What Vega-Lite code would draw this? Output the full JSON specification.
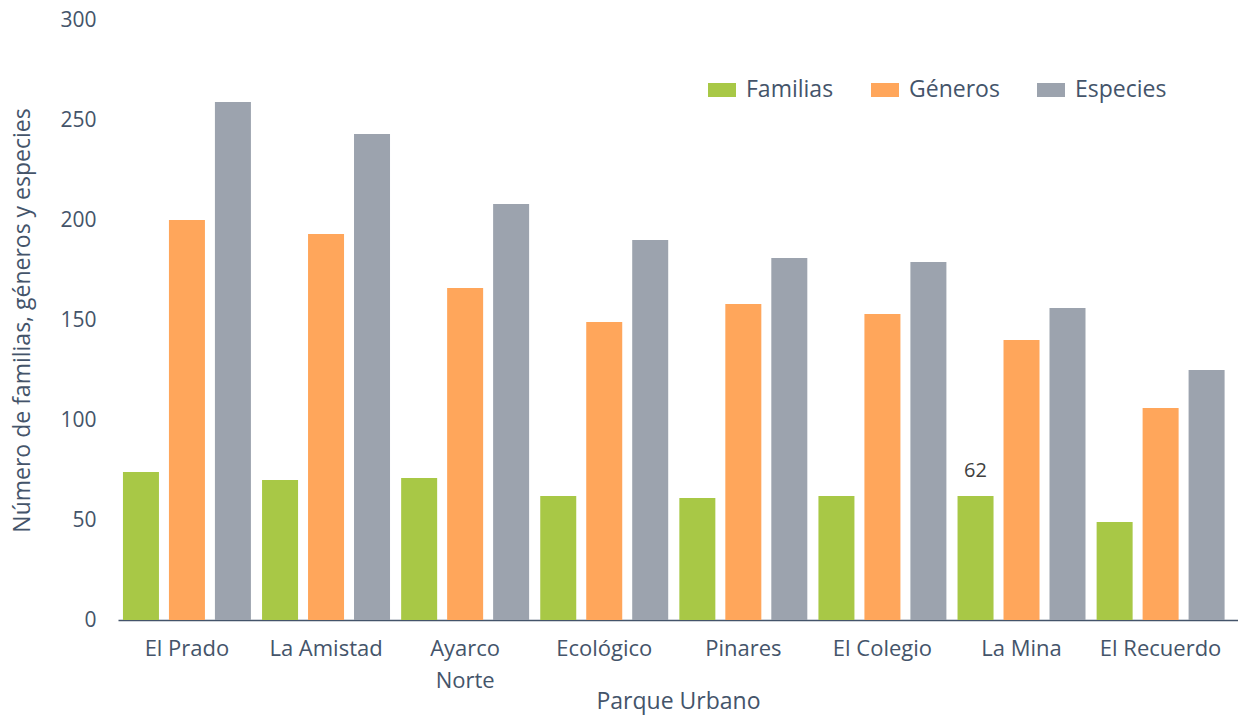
{
  "$schema": "https://vega.github.io/schema/vega-lite/v6.json",
  "width": 1120,
  "height": 600,
  "autosize": {"type": "none"},
  "padding": {"left": 118, "top": 20, "right": 0, "bottom": 95},
  "background": "white",
  "config": {"font": "Open Sans", "view": {"stroke": null}},
  "data": {
    "values": [
      {"parque": "El Prado", "grupo": "Familias", "valor": 74},
      {"parque": "El Prado", "grupo": "Géneros", "valor": 200},
      {"parque": "El Prado", "grupo": "Especies", "valor": 259},
      {"parque": "La Amistad", "grupo": "Familias", "valor": 70},
      {"parque": "La Amistad", "grupo": "Géneros", "valor": 193},
      {"parque": "La Amistad", "grupo": "Especies", "valor": 243},
      {"parque": "Ayarco Norte", "grupo": "Familias", "valor": 71},
      {"parque": "Ayarco Norte", "grupo": "Géneros", "valor": 166},
      {"parque": "Ayarco Norte", "grupo": "Especies", "valor": 208},
      {"parque": "Ecológico", "grupo": "Familias", "valor": 62},
      {"parque": "Ecológico", "grupo": "Géneros", "valor": 149},
      {"parque": "Ecológico", "grupo": "Especies", "valor": 190},
      {"parque": "Pinares", "grupo": "Familias", "valor": 61},
      {"parque": "Pinares", "grupo": "Géneros", "valor": 158},
      {"parque": "Pinares", "grupo": "Especies", "valor": 181},
      {"parque": "El Colegio", "grupo": "Familias", "valor": 62},
      {"parque": "El Colegio", "grupo": "Géneros", "valor": 153},
      {"parque": "El Colegio", "grupo": "Especies", "valor": 179},
      {"parque": "La Mina", "grupo": "Familias", "valor": 62, "etiqueta": "62"},
      {"parque": "La Mina", "grupo": "Géneros", "valor": 140},
      {"parque": "La Mina", "grupo": "Especies", "valor": 156},
      {"parque": "El Recuerdo", "grupo": "Familias", "valor": 49},
      {"parque": "El Recuerdo", "grupo": "Géneros", "valor": 106},
      {"parque": "El Recuerdo", "grupo": "Especies", "valor": 125}
    ]
  },
  "encoding": {
    "x": {
      "field": "parque",
      "type": "nominal",
      "sort": null,
      "scale": {"paddingInner": 0.08, "paddingOuter": 0.066, "align": 0.27},
      "axis": {
        "title": "Parque Urbano",
        "labelAngle": 0,
        "labelFontSize": 22,
        "labelColor": "#44546A",
        "labelPadding": 18,
        "labelLineHeight": 32,
        "labelExpr": "datum.label == 'Ayarco Norte' ? ['Ayarco', 'Norte'] : datum.label",
        "ticks": false,
        "domainColor": "#44546A",
        "domainWidth": 1.5,
        "titleFontSize": 23,
        "titleFontWeight": "normal",
        "titleColor": "#44546A",
        "titleY": 81,
        "titleBaseline": "middle"
      }
    },
    "xOffset": {
      "field": "grupo",
      "type": "nominal",
      "sort": ["Familias", "Géneros", "Especies"],
      "scale": {"paddingInner": 0.217, "paddingOuter": 0}
    },
    "y": {
      "field": "valor",
      "type": "quantitative",
      "scale": {"domain": [0, 300]},
      "axis": {
        "title": "Número de familias, géneros y especies",
        "values": [0, 50, 100, 150, 200, 250, 300],
        "grid": false,
        "domain": false,
        "ticks": false,
        "labelFontSize": 21,
        "labelColor": "#44546A",
        "labelPadding": 22,
        "titleFontSize": 23,
        "titleFontWeight": "normal",
        "titleColor": "#44546A",
        "titleX": -96,
        "titleY": 300,
        "titleAngle": -90,
        "titleBaseline": "middle",
        "titleAlign": "center"
      }
    }
  },
  "layer": [
    {
      "mark": {"type": "bar"},
      "encoding": {
        "color": {
          "field": "grupo",
          "type": "nominal",
          "scale": {
            "domain": ["Familias", "Géneros", "Especies"],
            "range": ["#A8C846", "#FFA65B", "#9CA3AE"]
          },
          "legend": {
            "title": null,
            "orient": "none",
            "direction": "horizontal",
            "legendX": 590,
            "legendY": 56,
            "symbolType": "M-1,-0.5H1V0.5H-1Z",
            "symbolSize": 784,
            "symbolStrokeWidth": 0,
            "labelFontSize": 23,
            "labelColor": "#44546A",
            "labelOffset": 10,
            "columnPadding": 37
          }
        }
      }
    },
    {
      "mark": {"type": "text", "dy": -15, "fontSize": 20, "color": "#404040", "baseline": "bottom"},
      "transform": [{"filter": "isValid(datum.etiqueta)"}],
      "encoding": {
        "text": {"field": "etiqueta", "type": "nominal"}
      }
    }
  ]
}
